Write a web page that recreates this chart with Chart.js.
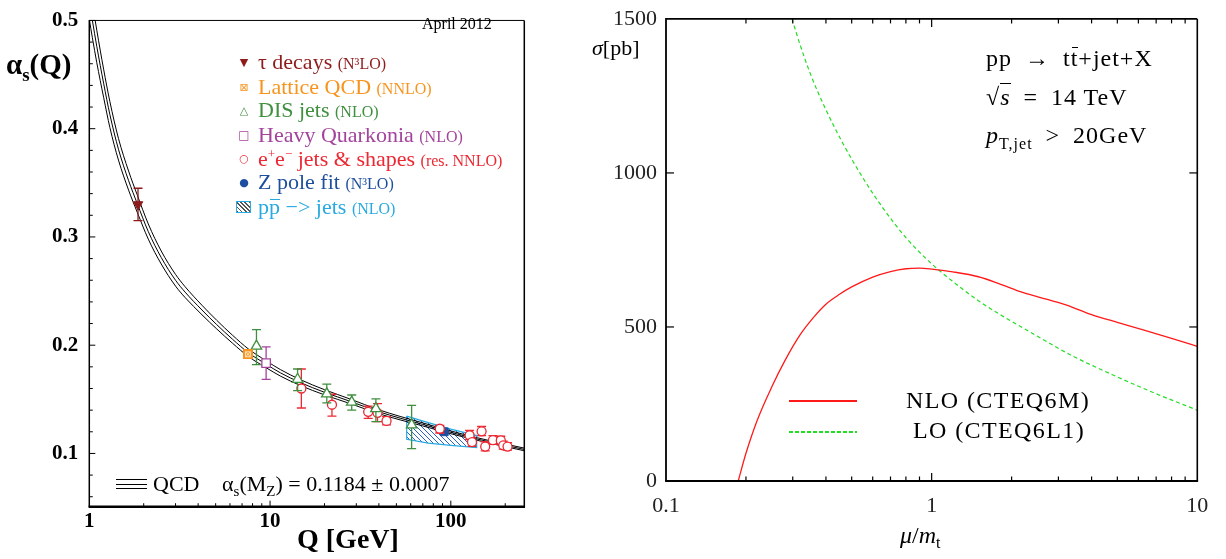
<!DOCTYPE html>
<html>
<head>
<meta charset="utf-8">
<script src="https://cdn.jsdelivr.net/npm/chart.js@4.4.1/dist/chart.umd.min.js"></script>
<style>
  body { margin: 0; background: #fff; width: 1226px; height: 559px; overflow: hidden; position: relative; font-family: 'Liberation Serif', 'Times New Roman', serif; }
  canvas { position: absolute; top: 0; }
  .t { position: absolute; white-space: nowrap; line-height: 1; }
  .mk { position: absolute; transform: translate(-50%, -50%); font-family: 'DejaVu Sans', sans-serif; line-height: 1; }
  .sm { font-size: 16px; }
  .bar { position: relative; }
  .bar i.b { position: absolute; left: 1px; right: 0; border-top: 1px solid currentColor; }
  .rt { font-size: 24px; letter-spacing: 1px; }
</style>
</head>
<body>
<canvas id="alphaChart" width="560" height="559" style="left:0px"></canvas>
<canvas id="sigmaChart" width="666" height="559" style="left:560px"></canvas>

<!-- left panel texts -->
<div class="t" style="left:6px; top:50px; font-size:29px; font-weight:bold;">α<span style="font-size:19px; position:relative; top:7px;">s</span>(Q)</div>
<div class="t" style="left:422px; top:16px; font-size:16px;">April 2012</div>

<div class="mk" style="left:244px; top:62px; font-size:11px; color:#8e1b1b;">▼</div>
<div class="t" style="left:258px; top:51px; font-size:22px; color:#8e1b1b;">τ decays <span class="sm">(N³LO)</span></div>
<div class="mk" style="left:244px; top:87px; font-size:11px; color:#f7941d;">⊠</div>
<div class="t" style="left:258px; top:76px; font-size:22px; color:#f7941d;">Lattice QCD <span class="sm">(NNLO)</span></div>
<div class="mk" style="left:244px; top:110px; font-size:11px; color:#3f8f3f;">△</div>
<div class="t" style="left:258px; top:99px; font-size:22px; color:#3f8f3f;">DIS jets <span class="sm">(NLO)</span></div>
<div class="mk" style="left:244px; top:135px; font-size:12px; color:#a3449c;">□</div>
<div class="t" style="left:258px; top:124px; font-size:22px; color:#a3449c;">Heavy Quarkonia <span class="sm">(NLO)</span></div>
<div class="mk" style="left:244px; top:158px; font-size:11px; color:#ec2833;">○</div>
<div class="t" style="left:258px; top:147px; font-size:22px; color:#ec2833;">e<sup style="font-size:13px">+</sup>e<sup style="font-size:13px">−</sup> jets &amp; shapes <span class="sm">(res. NNLO)</span></div>
<div class="mk" style="left:244px; top:182px; font-size:11px; color:#1d4f9e;">●</div>
<div class="t" style="left:258px; top:171px; font-size:22px; color:#1d4f9e;">Z pole fit <span class="sm">(N³LO)</span></div>
<div style="position:absolute; left:236px; top:201px; width:13px; height:10px; border:1.5px solid #27aae1; background:repeating-linear-gradient(45deg, #555 0 1.2px, #fff 1.2px 3px);"></div>
<div class="t" style="left:258px; top:196px; font-size:22px; color:#27aae1;">p<span class="bar">p<i class="b" style="top:5px"></i></span> −&gt; jets <span class="sm">(NLO)</span></div>

<div style="position:absolute; left:116px; top:479px; width:31px; border-top:1px solid #000;"></div>
<div style="position:absolute; left:116px; top:483.5px; width:31px; border-top:1px solid #000;"></div>
<div style="position:absolute; left:116px; top:488px; width:31px; border-top:1px solid #000;"></div>
<div class="t" style="left:153px; top:473px; font-size:22px;">QCD</div>
<div class="t" style="left:222px; top:473px; font-size:22px;">α<span style="font-size:15px; position:relative; top:5px;">s</span>(M<span style="font-size:15px; position:relative; top:5px;">Z</span>) = 0.1184 ± 0.0007</div>
<div class="t" style="left:297px; top:525px; font-size:28px; font-weight:bold;">Q [GeV]</div>

<!-- right panel texts -->
<div class="t" style="left:592px; top:37px; font-size:22px;"><i>σ</i>[pb]</div>
<div class="t rt" style="left:986px; top:46px;">pp&ensp;→&ensp;t<span class="bar">t<i class="b" style="top:2px"></i></span>+jet+X</div>
<div class="t rt" style="left:986px; top:85px;">√<span style="border-top:1.3px solid #000; font-style:italic;">s</span>&ensp;=&ensp;14 TeV</div>
<div class="t rt" style="left:986px; top:123px;"><i>p</i><span style="font-size:16px; position:relative; top:6px;">T,jet</span>&ensp;&gt;&ensp;20GeV</div>

<div style="position:absolute; left:789px; top:400px; width:68px; height:1.5px; background:#ff1a1a;"></div>
<div class="t" style="left:906px; top:388px; font-size:24px; letter-spacing:1.4px;">NLO (CTEQ6M)</div>
<div style="position:absolute; left:789px; top:431px; width:68px; height:1.5px; background:repeating-linear-gradient(90deg, #22dd22 0 4px, transparent 4px 6px);"></div>
<div class="t" style="left:913px; top:418px; font-size:24px; letter-spacing:1.4px;">LO (CTEQ6L1)</div>
<div class="t" style="left:900px; top:523px; font-size:24px;"><i>μ</i>/<i>m</i><span style="font-size:16px; position:relative; top:5px;">t</span></div>

<script>
// ---- left panel: running coupling alpha_s(Q) ----
const qcdQ   = [1.0, 1.04, 1.1, 1.2, 1.3, 1.45, 1.65, 1.84, 2.12, 2.5, 3.0, 3.39, 4.2, 5.07, 6.2, 7.59, 9.5, 11.4, 14.7, 20, 27.7, 40, 52.4, 70, 95, 140, 190, 255];
const qcdMid = [0.518, 0.500, 0.476, 0.442, 0.413, 0.381, 0.352, 0.331, 0.305, 0.281, 0.260, 0.249, 0.2325, 0.219, 0.2055, 0.193, 0.1825, 0.1745, 0.1655, 0.1565, 0.1482, 0.1385, 0.1326, 0.1268, 0.1205, 0.1133, 0.1083, 0.1037];
const qcdUp  = [0.535, 0.516, 0.491, 0.455, 0.425, 0.391, 0.3608, 0.339, 0.312, 0.287, 0.2654, 0.254, 0.2369, 0.223, 0.2092, 0.1965, 0.1857, 0.1775, 0.1682, 0.1589, 0.1503, 0.1403, 0.1342, 0.1282, 0.1218, 0.1145, 0.1095, 0.1049];
const qcdLow = [0.501, 0.484, 0.461, 0.429, 0.401, 0.371, 0.3432, 0.323, 0.298, 0.275, 0.2546, 0.244, 0.2281, 0.215, 0.2018, 0.1895, 0.1793, 0.1715, 0.1628, 0.1541, 0.1461, 0.1367, 0.1310, 0.1254, 0.1192, 0.1121, 0.1071, 0.1025];

const tauQ = [1.86], tauA = [0.330], tauLo = [0.315], tauHi = [0.345];
const latQ = [7.54], latA = [0.1916], latLo = [0.1895], latHi = [0.1937];
const disQ  = [8.41, 14.2, 20.6, 28.3, 38.5, 60.7];
const disA  = [0.1991, 0.1685, 0.155, 0.1474, 0.1414, 0.1264];
const disLo = [0.182, 0.158, 0.1468, 0.140, 0.1294, 0.1045];
const disHi = [0.2144, 0.178, 0.164, 0.154, 0.1505, 0.1444];
const hqQ = [9.51], hqA = [0.1835], hqLo = [0.1685], hqHi = [0.1985];
const eeQ  = [14.9, 22.0, 34.9, 39.3, 44.1, 86.9, 127, 131, 148, 155, 171, 189, 195, 206];
const eeA  = [0.160, 0.145, 0.1384, 0.1375, 0.130, 0.1228, 0.1168, 0.1105, 0.1204, 0.1063, 0.1123, 0.112, 0.1075, 0.1063];
const eeLo = [0.142, 0.1345, 0.1324, 0.1294, 0.1264, 0.1189, 0.1129, 0.1066, 0.1165, 0.1024, 0.1084, 0.1084, 0.1039, 0.103];
const eeHi = [0.178, 0.1547, 0.1438, 0.146, 0.134, 0.1258, 0.1213, 0.1144, 0.1249, 0.1108, 0.1165, 0.1159, 0.1114, 0.1099];
const zQ = [92], zA = [0.1200], zLo = [0.1190], zHi = [0.1210];
// p pbar -> jets band outline
const ppQ = [57, 75, 100, 139, 139, 100, 75, 57, 57];
const ppA = [0.1345, 0.1285, 0.1225, 0.1165, 0.1055, 0.1075, 0.1095, 0.113, 0.1345];

const alphaXLabels = [1, 10, 100];
const alphaXMinor  = [2, 3, 4, 5, 6, 7, 8, 9, 20, 30, 40, 50, 60, 70, 80, 90, 200];
const alphaYLabels = [0.1, 0.2, 0.3, 0.4, 0.5];
const alphaYMinor  = [0.06, 0.08, 0.12, 0.14, 0.16, 0.18, 0.22, 0.24, 0.26, 0.28, 0.32, 0.34, 0.36, 0.38, 0.42, 0.44, 0.46, 0.48];

// ---- right panel: scale dependence of sigma(pp -> ttbar+jet+X) ----
const muNLO    = [0.187, 0.2, 0.22, 0.25, 0.28, 0.32, 0.36, 0.4, 0.45, 0.5, 0.6, 0.7, 0.8, 0.9, 1.0, 1.2, 1.5, 1.8, 2.2, 2.7, 3.2, 4.0, 5.0, 6.3, 8.0, 10];
const sigmaNLO = [0, 90, 195, 305, 390, 475, 532, 574, 606, 630, 662, 680, 689, 691, 688, 679, 663, 640, 612, 590, 572, 540, 515, 490, 463, 437];
const muLO     = [0.298, 0.32, 0.352, 0.4, 0.464, 0.55, 0.657, 0.8, 1.0, 1.2, 1.5, 2.0, 2.5, 3.32, 4.79, 6.92, 10];
const sigmaLO  = [1500, 1415, 1315, 1205, 1095, 985, 885, 790, 705, 648, 585, 518, 470, 410, 345, 285, 230];

const sigmaXLabels = [0.1, 1, 10];
const sigmaXMinor  = [0.2, 0.3, 0.4, 0.5, 0.6, 0.7, 0.8, 0.9, 2, 3, 4, 5, 6, 7, 8, 9];
const sigmaYLabels = [0, 500, 1000, 1500];
const sigmaYInner  = [500, 1000];

const pts = (xs, ys) => xs.map((x, i) => ({ x: x, y: ys[i] }));

/* --- plugins --- */
// inward ticks + frame
const frameTicks = {
  id: 'frameTicks',
  afterDatasetsDraw(chart, args, o) {
    const { ctx, chartArea: a } = chart;
    const xs = chart.scales.x, ys = chart.scales.y;
    const seg = (x1, y1, x2, y2) => { ctx.beginPath(); ctx.moveTo(x1, y1); ctx.lineTo(x2, y2); ctx.stroke(); };
    ctx.save();
    ctx.strokeStyle = '#000';
    ctx.lineWidth = o.tickWidth;
    const xt = (vals, len) => vals.forEach(v => {
      const px = xs.getPixelForValue(v);
      seg(px, a.bottom, px, a.bottom - len);
      if (o.mirror) seg(px, a.top, px, a.top + len);
    });
    const yt = (vals, len) => vals.forEach(v => {
      const py = ys.getPixelForValue(v);
      seg(a.left, py, a.left + len, py);
      if (o.mirror) seg(a.right, py, a.right - len, py);
    });
    xt(o.xMajor, o.major); xt(o.xMinor, o.minor);
    yt(o.yMajor, o.major); yt(o.yMinor, o.minor);
    const [wt, wr, wb, wl] = o.frame;
    ctx.lineWidth = wt; seg(a.left, a.top, a.right, a.top);
    ctx.lineWidth = wr; seg(a.right, a.top, a.right, a.bottom);
    ctx.lineWidth = wb; seg(a.left - wl / 2, a.bottom, a.right + wr / 2, a.bottom);
    ctx.lineWidth = wl; seg(a.left, a.top - wt / 2, a.left, a.bottom);
    ctx.restore();
  }
};

// vertical error bars, drawn just under each marker set
const errorBars = {
  id: 'errorBars',
  beforeDatasetDraw(chart, args) {
    const ds = chart.data.datasets[args.index];
    if (!ds.errLo) return;
    const { ctx } = chart;
    const ys = chart.scales.y;
    ctx.save();
    ctx.strokeStyle = ds.borderColor;
    ctx.lineWidth = 1.3;
    args.meta.data.forEach((pt, i) => {
      const top = ys.getPixelForValue(ds.errHi[i]);
      const bot = ys.getPixelForValue(ds.errLo[i]);
      ctx.beginPath();
      ctx.moveTo(pt.x, top); ctx.lineTo(pt.x, bot);
      ctx.moveTo(pt.x - 4.5, top); ctx.lineTo(pt.x + 4.5, top);
      ctx.moveTo(pt.x - 4.5, bot); ctx.lineTo(pt.x + 4.5, bot);
      ctx.stroke();
    });
    ctx.restore();
  }
};

function latticeIcon() {
  const c = document.createElement('canvas');
  c.width = 10; c.height = 10;
  const g = c.getContext('2d');
  g.fillStyle = '#f7941d';
  g.fillRect(0, 0, 10, 10);
  g.strokeStyle = '#fde1bb';
  g.lineWidth = 1;
  g.strokeRect(2.5, 2.5, 5, 5);
  g.beginPath();
  g.moveTo(2.5, 2.5); g.lineTo(7.5, 7.5);
  g.moveTo(7.5, 2.5); g.lineTo(2.5, 7.5);
  g.stroke();
  return c;
}

function hatchPattern() {
  const c = document.createElement('canvas');
  c.width = 5; c.height = 5;
  const g = c.getContext('2d');
  g.strokeStyle = '#2a62c9';
  g.lineWidth = 1;
  g.beginPath();
  g.moveTo(0, 0); g.lineTo(5, 5);
  g.moveTo(-1, 4); g.lineTo(1, 6);
  g.moveTo(4, -1); g.lineTo(6, 1);
  g.stroke();
  return g.createPattern(c, 'repeat');
}

const curve = (data) => ({
  data: data, showLine: true, pointRadius: 0, borderColor: '#000', borderWidth: 1,
  cubicInterpolationMode: 'monotone', order: 2
});

const leftFont = { family: 'Liberation Serif', size: 21, weight: 'bold', lineHeight: 0.9 };

new Chart(document.getElementById('alphaChart'), {
  type: 'scatter',
  data: {
    datasets: [
      { data: pts(ppQ, ppA), showLine: true, pointRadius: 0, borderColor: '#27aae1', borderWidth: 1.2,
        backgroundColor: hatchPattern(), fill: 'shape', tension: 0, order: 3 },
      curve(pts(qcdQ, qcdUp)),
      curve(pts(qcdQ, qcdMid)),
      curve(pts(qcdQ, qcdLow)),
      { data: pts(tauQ, tauA), errLo: tauLo, errHi: tauHi, pointStyle: 'triangle', rotation: 180,
        pointRadius: 5.5, backgroundColor: '#8e1b1b', borderColor: '#8e1b1b', borderWidth: 1, order: 0 },
      { data: pts(latQ, latA), errLo: latLo, errHi: latHi, pointStyle: latticeIcon(), pointRadius: 5,
        borderColor: '#f7941d', order: 0 },
      { data: pts(disQ, disA), errLo: disLo, errHi: disHi, pointStyle: 'triangle', pointRadius: 6,
        backgroundColor: '#fff', borderColor: '#3f8f3f', borderWidth: 1.3, order: 0 },
      { data: pts(hqQ, hqA), errLo: hqLo, errHi: hqHi, pointStyle: 'rect', pointRadius: 6,
        backgroundColor: '#fff', borderColor: '#a3449c', borderWidth: 1.3, order: 0 },
      { data: pts(eeQ, eeA), errLo: eeLo, errHi: eeHi, pointStyle: 'circle', pointRadius: 4.5,
        backgroundColor: '#fff', borderColor: '#ec2833', borderWidth: 1.3, order: 0 },
      { data: pts(zQ, zA), errLo: zLo, errHi: zHi, pointStyle: 'rect', pointRadius: 5.5,
        backgroundColor: '#1d4f9e', borderColor: '#1d4f9e', borderWidth: 1, order: 0 }
    ]
  },
  options: {
    responsive: false,
    animation: false,
    devicePixelRatio: 1,
    layout: { padding: { top: 10, right: 35.7, bottom: 0, left: 0 } },
    plugins: {
      legend: { display: false },
      tooltip: { enabled: false },
      frameTicks: { xMajor: [10, 100], xMinor: alphaXMinor, yMajor: alphaYLabels, yMinor: alphaYMinor,
        major: 6, minor: 3.5, tickWidth: 1, mirror: false, frame: [1, 1.5, 2.5, 1.5] }
    },
    scales: {
      x: {
        type: 'logarithmic', min: 1, max: 255,
        grid: { display: false, drawTicks: false }, border: { display: false },
        afterBuildTicks: s => { s.ticks = alphaXLabels.map(v => ({ value: v })); },
        afterFit: s => { s.height = 52.3; },
        ticks: { autoSkip: false, maxRotation: 0, padding: 5, color: '#000', font: leftFont, callback: v => String(v) }
      },
      y: {
        type: 'linear', min: 0.0508, max: 0.5,
        grid: { display: false, drawTicks: false }, border: { display: false },
        afterBuildTicks: s => { s.ticks = alphaYLabels.map(v => ({ value: v })); },
        afterFit: s => { s.width = 89.3; },
        ticks: { autoSkip: false, padding: 11, color: '#000', font: leftFont, callback: v => v.toFixed(1) }
      }
    }
  },
  plugins: [errorBars, frameTicks]
});

const rightFont = { family: 'Liberation Serif', size: 22, lineHeight: 0.9 };

new Chart(document.getElementById('sigmaChart'), {
  type: 'scatter',
  data: {
    datasets: [
      { label: 'NLO (CTEQ6M)', data: pts(muNLO, sigmaNLO), showLine: true, pointRadius: 0,
        borderColor: '#ff1a1a', borderWidth: 1.3, cubicInterpolationMode: 'monotone' },
      { label: 'LO (CTEQ6L1)', data: pts(muLO, sigmaLO), showLine: true, pointRadius: 0,
        borderColor: '#22dd22', borderWidth: 1.2, borderDash: [4, 3], cubicInterpolationMode: 'monotone' }
    ]
  },
  options: {
    responsive: false,
    animation: false,
    devicePixelRatio: 1,
    layout: { padding: { top: 10, right: 28.7, bottom: 0, left: 0 } },
    plugins: {
      legend: { display: false },
      tooltip: { enabled: false },
      frameTicks: { xMajor: [1], xMinor: sigmaXMinor, yMajor: sigmaYInner, yMinor: [],
        major: 8, minor: 4.5, tickWidth: 1.2, mirror: true, frame: [1.6, 1.6, 1.8, 1.8] }
    },
    scales: {
      x: {
        type: 'logarithmic', min: 0.1, max: 10,
        grid: { display: false, drawTicks: false }, border: { display: false },
        afterBuildTicks: s => { s.ticks = sigmaXLabels.map(v => ({ value: v })); },
        afterFit: s => { s.height = 78; },
        ticks: { autoSkip: false, maxRotation: 0, padding: 15, color: '#222', font: rightFont, callback: v => String(v) }
      },
      y: {
        type: 'linear', min: 0, max: 1500,
        grid: { display: false, drawTicks: false }, border: { display: false },
        afterBuildTicks: s => { s.ticks = sigmaYLabels.map(v => ({ value: v })); },
        afterFit: s => { s.width = 106; },
        ticks: { autoSkip: false, padding: 9, color: '#222', font: rightFont, callback: v => String(v) }
      }
    }
  },
  plugins: [frameTicks]
});
</script>
</body>
</html>
